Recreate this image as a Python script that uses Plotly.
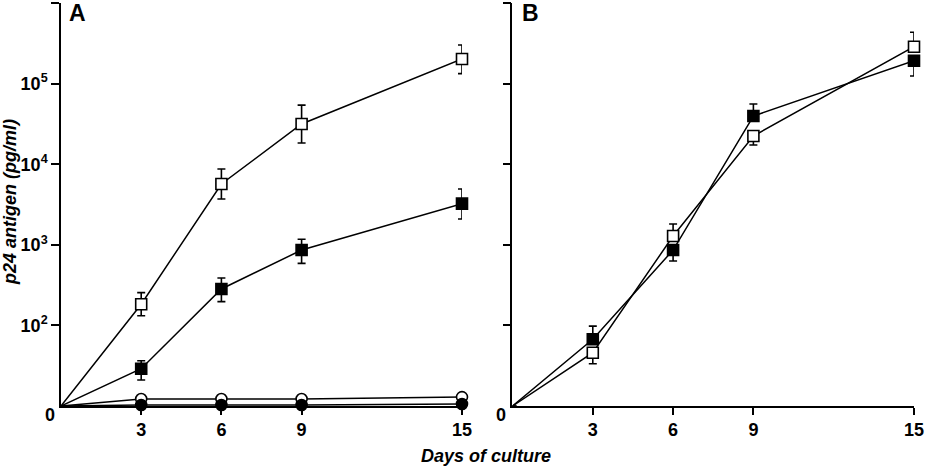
import plotly.graph_objects as go

# ---- data (0 on the chart = baseline value 10) ----
days = [0, 3, 6, 9, 15]
x_ticks = [3, 6, 9, 15]
y_tickvals = [100, 1000, 10000, 100000, 1000000]
y_ticktext = ["10<sup>2</sup>", "10<sup>3</sup>", "10<sup>4</sup>", "10<sup>5</sup>", "10<sup>6</sup>"]

# Panel A
a_open_sq = [10, 183, 5680, 31600, 202000]
a_open_sq_hi = [10, 255, 8710, 54000, 301000]
a_open_sq_lo = [10, 132, 3700, 18300, 133000]

a_fill_sq = [10, 29, 283, 861, 3240]
a_fill_sq_hi = [10, 36.5, 387, 1170, 4920]
a_fill_sq_lo = [10, 21, 197, 589, 2090]

a_open_ci = [10, 12.2, 12.2, 12.2, 12.9]

a_fill_ci = [10, 10.3, 10.3, 10.3, 10.6]
a_fill_ci_lo = [10, 8.4, 8.4, 8.4, 8.6]

# Panel B
b_open_sq = [10, 45.8, 1285, 22400, 287000]
b_open_sq_hi = [10, 45.8, 1810, 22400, 433000]
b_open_sq_lo = [10, 33.5, 1285, 17300, 287000]

b_fill_sq = [10, 67.3, 861, 39600, 192000]
b_fill_sq_hi = [10, 98, 861, 55800, 192000]
b_fill_sq_lo = [10, 67.3, 629, 39600, 124000]

FONT = "Liberation Sans, Arial, Helvetica, sans-serif"
sizes_sq = [0, 11, 11, 11, 11]
sizes_ci = [0, 11, 11, 11, 11]


def err(vals, hi, lo):
    return dict(type="data", symmetric=False,
                array=[h - v for v, h in zip(vals, hi)],
                arrayminus=[v - l for v, l in zip(vals, lo)],
                color="#000000", thickness=1.6, width=4)


def trace(vals, xa, ya, symbol, fill, sizes, e=None):
    return go.Scatter(
        x=days, y=vals, xaxis=xa, yaxis=ya, mode="lines+markers",
        line=dict(color="#000000", width=1.5),
        marker=dict(symbol=symbol, size=sizes, color=fill, opacity=1,
                    line=dict(color="#000000", width=1.6)),
        error_y=e if e else dict(visible=False),
        cliponaxis=False, showlegend=False, hoverinfo="skip")


fig = go.Figure()
# Panel A
fig.add_trace(trace(a_open_ci, "x", "y", "circle", "#ffffff", sizes_ci))
fig.add_trace(trace(a_fill_ci, "x", "y", "circle", "#000000", sizes_ci,
                    err(a_fill_ci, a_fill_ci, a_fill_ci_lo)))
fig.add_trace(trace(a_fill_sq, "x", "y", "square", "#000000", sizes_sq,
                    err(a_fill_sq, a_fill_sq_hi, a_fill_sq_lo)))
fig.add_trace(trace(a_open_sq, "x", "y", "square", "#ffffff", sizes_sq,
                    err(a_open_sq, a_open_sq_hi, a_open_sq_lo)))
# Panel B
fig.add_trace(trace(b_open_sq, "x2", "y2", "square", "#ffffff", sizes_sq,
                    err(b_open_sq, b_open_sq_hi, b_open_sq_lo)))
fig.add_trace(trace(b_fill_sq, "x2", "y2", "square", "#000000", sizes_sq,
                    err(b_fill_sq, b_fill_sq_hi, b_fill_sq_lo)))

xcommon = dict(range=[0, 15], showgrid=False, zeroline=False, showline=True,
               linecolor="black", linewidth=1.5, ticks="outside", ticklen=7,
               tickwidth=1.5, tickcolor="black", tickvals=x_ticks,
               tickfont=dict(family=FONT, size=18, color="black", weight="bold"),
               ticklabelstandoff=0)
ycommon = dict(type="log", range=[1, 6], showgrid=False, zeroline=False,
               showline=True, linecolor="black", linewidth=1.5,
               ticks="outside", ticklen=8, tickwidth=1.5, tickcolor="black",
               tickvals=y_tickvals,
               tickfont=dict(family=FONT, size=18, color="black", weight="bold"))

fig.update_layout(
    width=932, height=466,
    margin=dict(l=61, r=18, t=3, b=60),
    paper_bgcolor="white", plot_bgcolor="white",
    xaxis=dict(domain=[0, 0.4701], anchor="y", **xcommon),
    xaxis2=dict(domain=[0.5293, 1.0], anchor="y2", **xcommon),
    yaxis=dict(domain=[0, 1], anchor="x", ticktext=y_ticktext, ticklabelstandoff=0, **ycommon),
    yaxis2=dict(domain=[0, 1], anchor="x2", showticklabels=False, **ycommon),
    annotations=[
        dict(text="0", x=0, y=1, xref="x", yref="y", showarrow=False,
             xanchor="center", yanchor="middle", xshift=-11, yshift=-9,
             font=dict(family=FONT, size=18, color="black", weight="bold")),
        dict(text="0", x=0, y=1, xref="x2", yref="y2", showarrow=False,
             xanchor="center", yanchor="middle", xshift=-11, yshift=-9,
             font=dict(family=FONT, size=18, color="black", weight="bold")),
        dict(text="A", x=0, y=6, xref="x", yref="y", showarrow=False,
             xanchor="left", yanchor="middle", xshift=6, yshift=-10,
             font=dict(family=FONT, size=23, color="black", weight="bold")),
        dict(text="B", x=0, y=6, xref="x2", yref="y2", showarrow=False,
             xanchor="left", yanchor="middle", xshift=8, yshift=-10,
             font=dict(family=FONT, size=23, color="black", weight="bold")),
        dict(text="<i>p24 antigen (pg/ml)</i>", x=10, y=202, xref="paper", yref="paper",
             showarrow=False, textangle=-90, xanchor="center", yanchor="middle",
             font=dict(family=FONT, size=18, color="black", weight="bold")),
        dict(text="<i>Days of culture</i>", x=486, y=456, xref="paper", yref="paper",
             showarrow=False, xanchor="center", yanchor="middle",
             font=dict(family=FONT, size=18, color="black", weight="bold")),
    ],
)

# convert pixel-based paper annotations to paper fractions
pw = 932 - 61 - 18
ph = 466 - 3 - 60
new_ann = []
for a in fig.layout.annotations:
    if a.xref == "paper":
        a.x = (a.x - 61) / pw
        a.y = (466 - 60 - a.y) / ph
    new_ann.append(a)
fig.layout.annotations = new_ann

fig.write_html("out.html")
